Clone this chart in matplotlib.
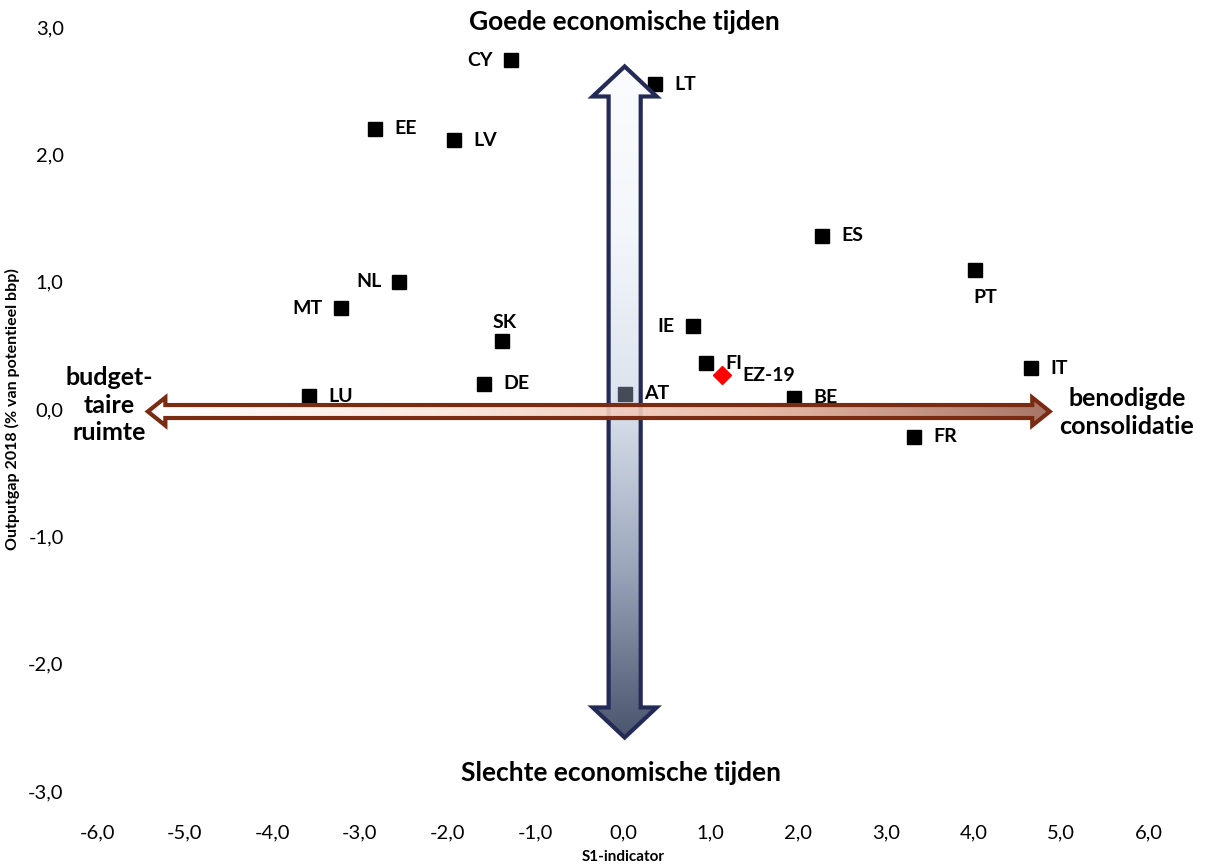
import numpy as np
import matplotlib
matplotlib.use("Agg")
import matplotlib.pyplot as plt
from matplotlib.patches import Polygon
from matplotlib.colors import LinearSegmentedColormap
from matplotlib.ticker import FuncFormatter, MultipleLocator

plt.rcParams['font.family'] = ['Lato', 'DejaVu Sans']

# landen: S1-indicator (x) en outputgap 2018 (y)
landen = ["CY", "LT", "EE", "LV", "ES", "PT", "NL", "MT", "IE", "SK",
          "FI", "IT", "DE", "LU", "AT", "BE", "FR"]
s1 = [-1.28, 0.37, -2.83, -1.93, 2.27, 4.02, -2.55, -3.22, 0.80, -1.38,
      0.95, 4.66, -1.58, -3.58, 0.02, 1.95, 3.32]
gap = [2.74, 2.55, 2.20, 2.11, 1.36, 1.09, 1.00, 0.79, 0.65, 0.53,
       0.36, 0.32, 0.20, 0.10, 0.12, 0.09, -0.22]
ez_naam = "EZ-19"
ez_s1 = 1.13
ez_gap = 0.27

# plaats van het label t.o.v. het punt (in punten)
rechts = (14, 0)
links = (-13, 0)
label_pos = {"CY": links, "NL": links, "MT": links, "IE": links,
             "PT": (7, -20), "SK": (2, 14)}

fig = plt.figure(figsize=(12.08, 8.64), dpi=100)
ax = fig.add_axes([0.0803, 0.0845, 0.8707, 0.8843])
ax.set_xlim(-6, 6)
ax.set_ylim(-3, 3)


def pijl_polygon(x0, y0, x1, y1, schacht, kop_breed, kop_lang, vertical):
    # dubbele pijl als polygon in data-coordinaten
    if not vertical:
        yc = y0
        pts = [(x0, yc), (x0 + kop_lang, yc + kop_breed), (x0 + kop_lang, yc + schacht),
               (x1 - kop_lang, yc + schacht), (x1 - kop_lang, yc + kop_breed), (x1, yc),
               (x1 - kop_lang, yc - kop_breed), (x1 - kop_lang, yc - schacht),
               (x0 + kop_lang, yc - schacht), (x0 + kop_lang, yc - kop_breed)]
    else:
        xc = x0
        pts = [(xc, y0), (xc + kop_breed, y0 + kop_lang), (xc + schacht, y0 + kop_lang),
               (xc + schacht, y1 - kop_lang), (xc + kop_breed, y1 - kop_lang), (xc, y1),
               (xc - kop_breed, y1 - kop_lang), (xc - schacht, y1 - kop_lang),
               (xc - schacht, y0 + kop_lang), (xc - kop_breed, y0 + kop_lang)]
    return pts


# verticale pijl (goede / slechte tijden)
cm_v = LinearSegmentedColormap.from_list("v", ["#4a556e", "#9aa5ba", "#dce3ee", "#f3f6fb", "#fbfcfe"])
pts_v = pijl_polygon(0.02, -2.58, 0.02, 2.69, 0.183, 0.365, 0.236, True)
poly_v = Polygon(pts_v, closed=True, facecolor="none", edgecolor="#242a56", lw=3, zorder=4)
ax.add_patch(poly_v)
grad_v = np.linspace(0, 1, 256).reshape(-1, 1)
im_v = ax.imshow(grad_v, cmap=cm_v, origin="lower", aspect="auto",
                 extent=[-0.4, 0.44, -2.58, 2.69], zorder=3, interpolation="bilinear")
im_v.set_clip_path(poly_v)

# horizontale pijl (budgettaire ruimte / consolidatie)
cm_h = LinearSegmentedColormap.from_list("h", ["#ffffff", "#fae6dd", "#e9b8a4", "#a16a5a"])
pts_h = pijl_polygon(-5.42, -0.02, 4.87, -0.02, 0.051, 0.11, 0.2, False)
poly_h = Polygon(pts_h, closed=True, facecolor="none", edgecolor="#7a2c12", lw=3, zorder=6)
ax.add_patch(poly_h)
grad_h = np.linspace(0, 1, 256).reshape(1, -1)
im_h = ax.imshow(grad_h, cmap=cm_h, origin="lower", aspect="auto", alpha=0.92,
                 extent=[-5.42, 4.87, -0.14, 0.1], zorder=5, interpolation="bilinear")
im_h.set_clip_path(poly_h)

ax.set_xlim(-6, 6)
ax.set_ylim(-3, 3)

# punten per land
for naam, x, y in zip(landen, s1, gap):
    kleur = "#454b57" if naam == "AT" else "black"
    ax.plot(x, y, marker="s", ms=10, color=kleur, ls="none", zorder=4.5 if naam == "AT" else 2)
    off = label_pos.get(naam, rechts)
    ha = "right" if off[0] < 0 else "left"
    if naam in ("PT", "SK"):
        ha = "center"
    ax.annotate(naam, (x, y), xytext=off, textcoords="offset points", ha=ha, va="center",
                fontsize=14, fontweight="bold", zorder=4.6 if naam == "AT" else 2)

ax.plot(ez_s1, ez_gap, marker="D", ms=9, color="#ff0000", ls="none", zorder=2)
ax.annotate(ez_naam, (ez_s1, ez_gap), xytext=(15, -1), textcoords="offset points",
            ha="left", va="center", fontsize=14, fontweight="bold", zorder=2)

# teksten bij de pijlen
ax.text(0.02, 3.04, "Goede economische tijden", ha="center", va="center",
        fontsize=19, fontweight="bold")
ax.text(-0.02, -2.86, "Slechte economische tijden", ha="center", va="center",
        fontsize=19, fontweight="bold")
ax.text(-5.86, 0.03, "budget-\ntaire\nruimte", ha="center", va="center",
        fontsize=18, fontweight="bold", linespacing=1.25)
ax.text(5.75, -0.03, "benodigde\nconsolidatie", ha="center", va="center",
        fontsize=18, fontweight="bold", linespacing=1.25)

fmt = FuncFormatter(lambda v, p: f"{v:.1f}".replace(".", ","))
ax.xaxis.set_major_locator(MultipleLocator(1))
ax.yaxis.set_major_locator(MultipleLocator(1))
ax.xaxis.set_major_formatter(fmt)
ax.yaxis.set_major_formatter(fmt)
ax.tick_params(length=0, labelsize=14.5)
ax.tick_params(axis="x", pad=24)
ax.tick_params(axis="y", pad=24)
for s in ax.spines.values():
    s.set_visible(False)

ax.set_xlabel("S1-indicator", fontsize=11, fontweight="bold", labelpad=6)
ax.set_ylabel("Outputgap 2018 (% van potentieel bbp)", fontsize=11.5, fontweight="bold", labelpad=6)

fig.savefig("out.png", dpi=100)
